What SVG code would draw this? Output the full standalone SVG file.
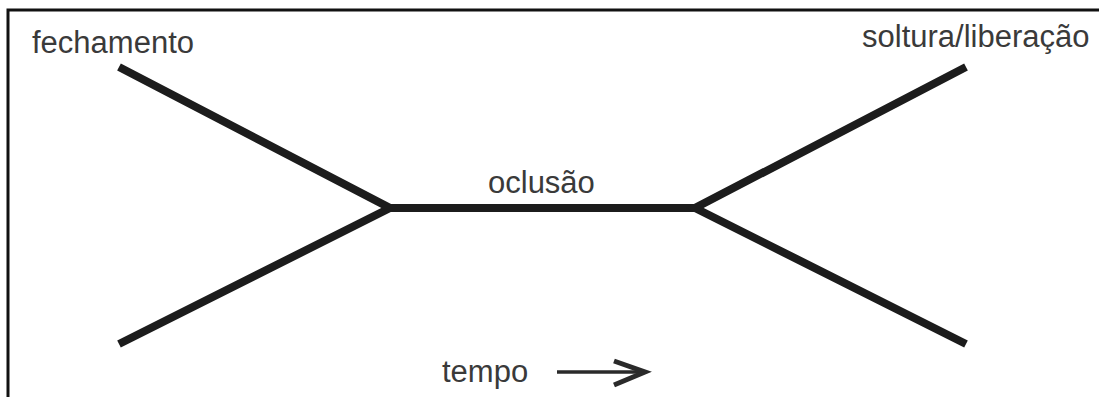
<svg xmlns="http://www.w3.org/2000/svg" width="1099" height="397" viewBox="0 0 1099 397">
  <style>
    .lbl { font-family: "Liberation Sans", Arial, sans-serif; font-size: 31px; fill: #3a3a3a; }
    .bar { stroke: #1c1c1c; stroke-width: 8; fill: none; stroke-linecap: butt; stroke-linejoin: miter; }
  </style>
  <rect x="0" y="0" width="1099" height="397" fill="#ffffff"/>
  <rect x="8" y="10" width="1110" height="410" fill="none" stroke="#111" stroke-width="3"/>
  <g id="connectors">
    <polyline class="bar" points="119,67 390,208 119,344"/>
    <line class="bar" x1="388" y1="208" x2="697" y2="208"/>
    <polyline class="bar" points="966,67 695,208 966,344"/>
  </g>
  <g id="fechamento"><text class="lbl" x="32" y="53">fechamento</text></g>
  <g id="soltura"><text class="lbl" x="862" y="47">soltura/liberação</text></g>
  <g id="oclusao"><text class="lbl" x="488" y="193">oclusão</text></g>
  <g id="tempo">
    <text class="lbl" x="442" y="382">tempo</text>
    <line x1="557" y1="372" x2="640" y2="372" stroke="#2a2a2a" stroke-width="3.5"/>
    <path d="M614,361 L645,372 L614,385" fill="none" stroke="#2a2a2a" stroke-width="5"/>
  </g>
</svg>
